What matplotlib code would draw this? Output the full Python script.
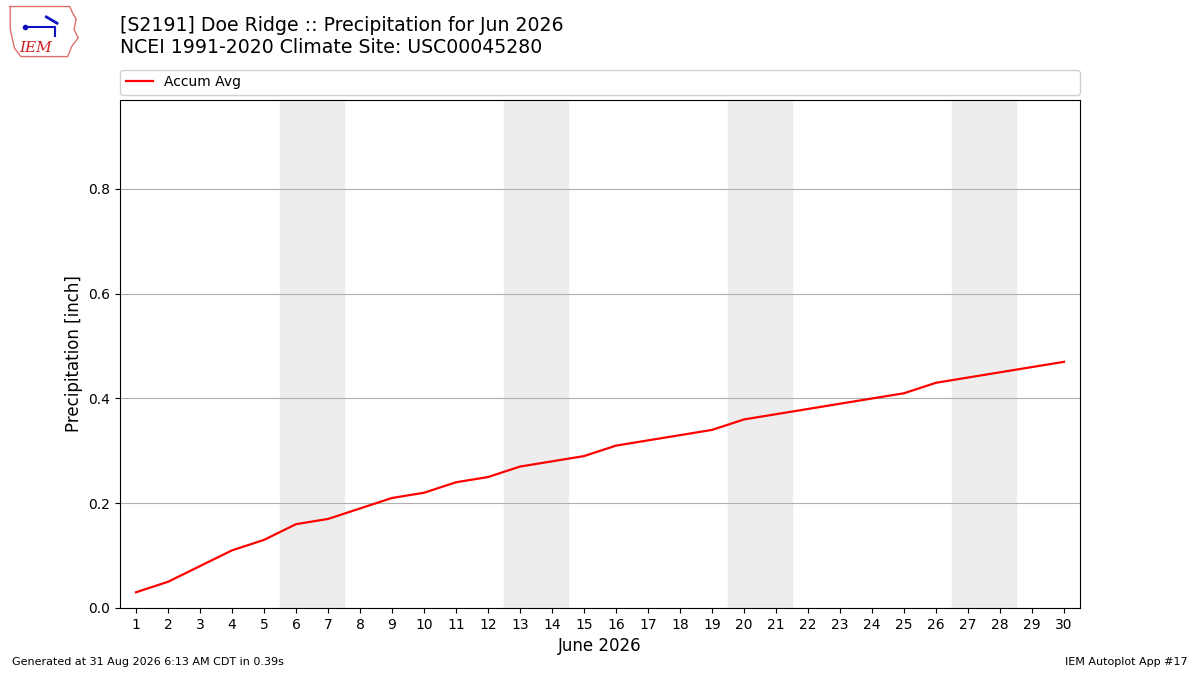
import matplotlib
matplotlib.use("Agg")
import matplotlib.pyplot as plt

days = list(range(1, 31))
accum_avg = [0.03, 0.05, 0.08, 0.11, 0.13, 0.16, 0.17, 0.19, 0.21, 0.22,
             0.24, 0.25, 0.27, 0.28, 0.29, 0.31, 0.32, 0.33, 0.34, 0.36,
             0.37, 0.38, 0.39, 0.40, 0.41, 0.43, 0.44, 0.45, 0.46, 0.47]
weekend_starts = [6, 13, 20, 27]

title_lines = ["[S2191] Doe Ridge :: Precipitation for Jun 2026",
               "NCEI 1991-2020 Climate Site: USC00045280"]

fig = plt.figure(figsize=(12, 6.75), dpi=100)
ax = fig.add_axes([0.1, 0.0993, 0.8, 0.7526])

for d in weekend_starts:
    ax.axvspan(d - 0.5, d + 1.5, color="#ededed", zorder=0)

ax.plot(days, accum_avg, color="red", lw=1.6, label="Accum Avg", zorder=3)

ax.set_xlim(0.5, 30.5)
ax.set_ylim(0, 0.97)
ax.set_xticks(days)
ax.set_yticks([0, 0.2, 0.4, 0.6, 0.8])
ax.set_yticklabels(["0.0", "0.2", "0.4", "0.6", "0.8"])
ax.grid(axis="y", color="#b0b0b0", lw=0.8)
ax.set_axisbelow(True)
ax.tick_params(labelsize=10)
ax.set_ylabel("Precipitation [inch]", fontsize=12)
ax.set_xlabel("June 2026", fontsize=12)

ax.legend(loc="lower left", bbox_to_anchor=(0, 1.01, 1, 0.05), mode="expand",
          ncol=1, fontsize=10, borderaxespad=0, framealpha=1, edgecolor="#d0d0d0")

fig.text(0.1, 0.977, "\n".join(title_lines), fontsize=13.6, va="top", ha="left",
         linespacing=1.25)

fig.text(0.01, 0.015, "Generated at 31 Aug 2026 6:13 AM CDT in 0.39s", fontsize=8)
fig.text(0.99, 0.015, "IEM Autoplot App #17", fontsize=8, ha="right")

# small IEM logo stand-in
lax = fig.add_axes([0.005, 0.91, 0.062, 0.085])
lax.set_xlim(0, 70)
lax.set_ylim(0, 55)
lax.axis("off")
ox = [4, 60, 63, 66, 64, 68, 62, 58, 14, 8, 4, 4]
oy = [52, 52, 45, 40, 30, 22, 14, 4, 4, 12, 30, 52]
lax.plot(ox, oy, color="#e07070", lw=1)
lax.text(12, 8, "IEM", color="#d02020", fontsize=11, family="DejaVu Serif",
         style="italic")
lax.plot([18, 46, 46], [32, 32, 24], color="#1010c0", lw=1.5)
lax.plot([38, 48], [42, 36], color="#1010c0", lw=2)
lax.plot([18], [32], "o", color="#1010c0", ms=3)

fig.savefig("out.png", dpi=100)
